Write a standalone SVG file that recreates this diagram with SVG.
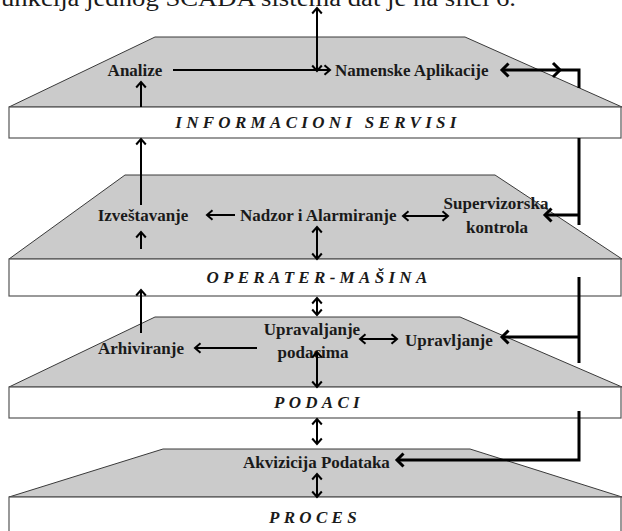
<svg xmlns="http://www.w3.org/2000/svg" width="622" height="531" viewBox="0 0 622 531">
<style>
.trap{fill:#cbcbcb;stroke:#3a3a3a;stroke-width:1}
.bar{fill:#ffffff;stroke:#555;stroke-width:1.2}
.lbl{font-family:"Liberation Serif","Times New Roman",serif;font-weight:bold;font-size:17px;fill:#1a1a1a}
.ttl{font-family:"Liberation Serif","Times New Roman",serif;font-weight:bold;font-style:italic;font-size:17px;letter-spacing:4.3px;fill:#1a1a1a;text-anchor:middle}
.cap{font-family:"Liberation Serif","Times New Roman",serif;font-size:23px;fill:#1a1a1a}
.c{fill:none;stroke:#000;stroke-width:2}
.ct{fill:none;stroke:#000;stroke-width:3}
</style>
<defs>
<marker id="a" markerUnits="userSpaceOnUse" markerWidth="14" markerHeight="14" refX="7" refY="7" orient="auto-start-reverse" overflow="visible">
<path d="M1.5,2.2 L7,7 L1.5,11.8" fill="none" stroke="#000" stroke-width="2"/>
</marker>
<marker id="b" markerUnits="userSpaceOnUse" markerWidth="16" markerHeight="16" refX="8" refY="8" orient="auto-start-reverse" overflow="visible">
<path d="M1.5,1.5 L8,8 L1.5,14.5" fill="none" stroke="#000" stroke-width="3"/>
</marker>
</defs>

<text class="cap" x="-8" y="6" textLength="524" lengthAdjust="spacingAndGlyphs">funkcija jednog SCADA sistema dat je na slici 6.</text>

<g id="layer-informacioni">
<polygon class="trap" points="155,37 465,37 622,107 9,107"/>
<rect class="bar" x="9" y="107" width="612" height="31"/>
<text class="ttl" x="318" y="128">INFORMACIONI SERVISI</text>
</g>
<g id="layer-operater">
<polygon class="trap" points="125,175 495,175 622,259 9,259"/>
<rect class="bar" x="9" y="259" width="612" height="37"/>
<text class="ttl" x="319" y="283">OPERATER-MAŠINA</text>
</g>
<g id="layer-podaci">
<polygon class="trap" points="155,317 460,317 622,387 9,387"/>
<rect class="bar" x="9" y="387" width="612" height="31"/>
<text class="ttl" x="319" y="408">PODACI</text>
</g>
<g id="layer-proces">
<polygon class="trap" points="163,449 470,449 622,497 9,497"/>
<rect class="bar" x="9" y="497" width="612" height="40"/>
<text class="ttl" x="315" y="523">PROCES</text>
</g>

<g id="n-analize"><text class="lbl" x="135" y="76" text-anchor="middle">Analize</text></g>
<g id="n-namenske"><text class="lbl" x="335" y="76">Namenske Aplikacije</text></g>
<g id="n-izvestavanje"><text class="lbl" x="143" y="221" text-anchor="middle">Izveštavanje</text></g>
<g id="n-nadzor"><text class="lbl" x="240" y="221">Nadzor i Alarmiranje</text></g>
<g id="n-supervizorska"><text class="lbl" x="496" y="209" text-anchor="middle">Supervizorska</text><text class="lbl" x="497" y="233" text-anchor="middle">kontrola</text></g>
<g id="n-upravaljanje"><text class="lbl" x="312" y="335" text-anchor="middle">Upravaljanje</text><text class="lbl" x="313" y="358" text-anchor="middle">podacima</text></g>
<g id="n-upravljanje"><text class="lbl" x="405" y="346">Upravljanje</text></g>
<g id="n-arhiviranje"><text class="lbl" x="98" y="354">Arhiviranje</text></g>
<g id="n-akvizicija"><text class="lbl" x="243" y="468">Akvizicija Podataka</text></g>

<g id="connectors">
<line class="c" x1="173" y1="70" x2="330" y2="70" marker-end="url(#a)"/>
<line class="c" x1="317" y1="71" x2="317" y2="8" marker-start="url(#a)" marker-end="url(#a)"/>
<path class="ct" d="M502,70 L579,70 L579,88" marker-start="url(#b)"/>
<polyline class="ct" points="553,63 560,70 553,77"/>
<line class="c" x1="141" y1="107" x2="141" y2="82" marker-end="url(#a)"/>
<line class="c" x1="141" y1="205" x2="141" y2="139" marker-end="url(#a)"/>
<line class="c" x1="141" y1="249" x2="141" y2="232" marker-end="url(#a)"/>
<line class="c" x1="235" y1="215" x2="207" y2="215" marker-end="url(#a)"/>
<line class="c" x1="403" y1="216" x2="448" y2="216" marker-start="url(#a)" marker-end="url(#a)"/>
<path class="ct" d="M579,138 L579,225"/>
<line class="ct" x1="579" y1="215" x2="545" y2="215" marker-end="url(#b)"/>
<line class="c" x1="317" y1="227" x2="317" y2="259" marker-start="url(#a)" marker-end="url(#a)"/>
<line class="c" x1="317" y1="298" x2="317" y2="315" marker-start="url(#a)" marker-end="url(#a)"/>
<path class="ct" d="M579,277 L579,363"/>
<line class="ct" x1="579" y1="337" x2="502" y2="337" marker-end="url(#b)"/>
<line class="c" x1="141" y1="333" x2="141" y2="290" marker-end="url(#a)"/>
<line class="c" x1="257" y1="348" x2="195" y2="348" marker-end="url(#a)"/>
<line class="c" x1="360" y1="339" x2="397" y2="339" marker-start="url(#a)" marker-end="url(#a)"/>
<line class="c" x1="317" y1="352" x2="317" y2="387" marker-start="url(#a)" marker-end="url(#a)"/>
<line class="c" x1="317" y1="419" x2="317" y2="444" marker-start="url(#a)" marker-end="url(#a)"/>
<path class="ct" d="M579,411 L579,460 L397,460" marker-end="url(#b)"/>
<line class="c" x1="317" y1="474" x2="317" y2="497" marker-start="url(#a)" marker-end="url(#a)"/>
</g>
</svg>
